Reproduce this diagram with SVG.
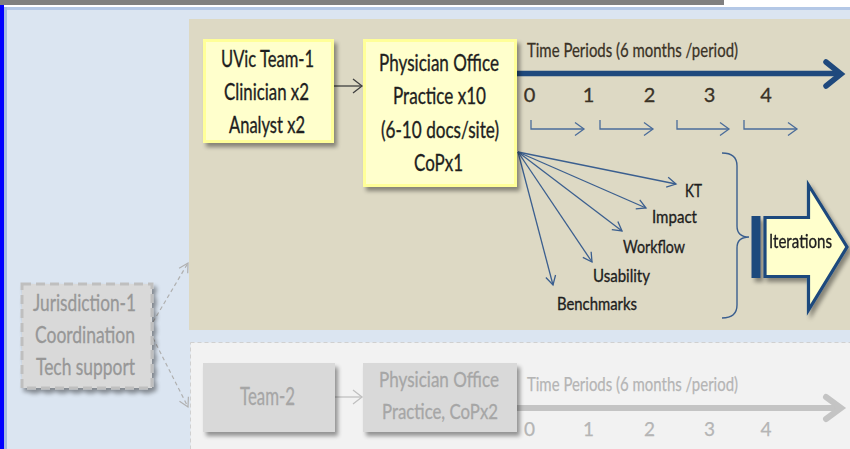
<svg xmlns="http://www.w3.org/2000/svg" width="850" height="449" viewBox="0 0 850 449">
<style>
.t{font-family:Lato,"Open Sans","Liberation Sans",sans-serif;}
.dk{fill:#1e1e1e;stroke:#1e1e1e;stroke-width:0.35;}
.tm{fill:#3a3226;stroke:#3a3226;stroke-width:0.3;}
.gr{fill:#a6a6a6;stroke:#a6a6a6;stroke-width:0.3;}
.lg{fill:#b5b5b5;stroke:#b5b5b5;stroke-width:0.25;}
.jg{fill:#979797;stroke:#979797;stroke-width:0.3;}
.ybox{fill:#ffffcc;stroke:#ffff99;stroke-width:3;}
.gbox{fill:#d9d9d9;}
.fan{stroke:#3b5f8f;stroke-width:1.3;fill:none;marker-end:url(#mb);}
.elb{stroke:#4a6c9a;stroke-width:1.3;fill:none;marker-end:url(#me);}
</style>
<defs>
<filter id="sh" x="-15%" y="-15%" width="140%" height="140%">
<feGaussianBlur in="SourceAlpha" stdDeviation="2"/>
<feOffset dx="3" dy="4" result="o"/>
<feComponentTransfer><feFuncA type="linear" slope="0.4"/></feComponentTransfer>
<feMerge><feMergeNode/><feMergeNode in="SourceGraphic"/></feMerge>
</filter>
<marker id="mb" markerUnits="userSpaceOnUse" markerWidth="12" markerHeight="14" refX="10" refY="7" orient="auto"><path d="M1,2 L10,7 L1,12" fill="none" stroke="#3b5f8f" stroke-width="1.3"/></marker>
<marker id="me" markerUnits="userSpaceOnUse" markerWidth="12" markerHeight="16" refX="10" refY="8" orient="auto"><path d="M1,1.5 L10,8 L1,14.5" fill="none" stroke="#4a6c9a" stroke-width="1.3"/></marker>
<marker id="md" markerUnits="userSpaceOnUse" markerWidth="12" markerHeight="16" refX="10" refY="8" orient="auto"><path d="M1,1 L10,8 L1,15" fill="none" stroke="#404040" stroke-width="1.3"/></marker>
<marker id="mg" markerUnits="userSpaceOnUse" markerWidth="12" markerHeight="14" refX="10" refY="7" orient="auto"><path d="M1,2 L10,7 L1,12" fill="none" stroke="#b0b0b0" stroke-width="1.2"/></marker>
<marker id="ml" markerUnits="userSpaceOnUse" markerWidth="12" markerHeight="16" refX="10" refY="8" orient="auto"><path d="M1,1 L10,8 L1,15" fill="none" stroke="#c0c0c0" stroke-width="1.3"/></marker>
</defs>

<g id="background">
<rect x="0" y="0" width="850" height="449" fill="#dbe5f1"/>
<rect x="0" y="0" width="724" height="5" fill="#808080"/>
<rect x="724" y="0" width="126" height="5" fill="#ffffff"/>
<rect x="0" y="5" width="850" height="2" fill="#ffffff"/>
<rect x="4" y="7" width="846" height="3" fill="#b4c8e6"/>
<rect x="4" y="7" width="3" height="442" fill="#a3bbe2"/>
<rect x="0" y="5" width="4" height="444" fill="#0000ff"/>
<rect id="panel1" x="189" y="19" width="661" height="311" fill="#ddd9c4"/>
<rect id="panel2" x="190.5" y="342.5" width="661" height="110" fill="#f2f2f2" stroke="#d0d0d0" stroke-width="1" stroke-dasharray="4 3"/>
</g>

<g id="connectors">
<path d="M334,86 H362" stroke="#404040" stroke-width="1.3" fill="none" marker-end="url(#md)"/>
<path d="M517,73.5 H840" stroke="#1f497d" stroke-width="5.5" fill="none"/>
<polyline points="826,62 841,74 826,86" stroke="#1f497d" stroke-width="5.5" fill="none" stroke-linecap="round" stroke-linejoin="miter"/>
<path class="elb" d="M531,120 V129 H584"/>
<path class="elb" d="M600,120 V129 H653"/>
<path class="elb" d="M677,120 V129 H729"/>
<path class="elb" d="M744,120 V129 H797"/>
<path class="fan" d="M518,152 L676,184"/>
<path class="fan" d="M518,152 L646,208"/>
<path class="fan" d="M518,152 L622,231"/>
<path class="fan" d="M518,152 L592,262"/>
<path class="fan" d="M518,152 L553,285"/>
<path d="M722,153 Q737,153 737,166 V226 Q737,237 749,237 Q737,237 737,248 V305 Q737,318 722,318" stroke="#3b5f8f" stroke-width="1.4" fill="none"/>
<path d="M153,322 L188,263" stroke="#b0b0b0" stroke-width="1.2" stroke-dasharray="4 3" fill="none" marker-end="url(#mg)"/>
<path d="M153,338 L188,407" stroke="#b0b0b0" stroke-width="1.2" stroke-dasharray="4 3" fill="none" marker-end="url(#mg)"/>
<path d="M335,397 H362" stroke="#c0c0c0" stroke-width="1.3" fill="none" marker-end="url(#ml)"/>
<path d="M517,408 H840" stroke="#c4c4c4" stroke-width="6" fill="none"/>
<polyline points="826,397 841,408 826,419" stroke="#c4c4c4" stroke-width="6" fill="none" stroke-linecap="round"/>
</g>

<g id="uvic-team-1">
<rect class="ybox" x="204.5" y="40.5" width="128" height="101" filter="url(#sh)"/>
<text class="t dk" font-size="22.5" x="221" y="67" textLength="93" lengthAdjust="spacingAndGlyphs">UVic Team-1</text>
<text class="t dk" font-size="22.5" x="224" y="100" textLength="85" lengthAdjust="spacingAndGlyphs">Clinician x2</text>
<text class="t dk" font-size="22.5" x="229" y="133" textLength="76" lengthAdjust="spacingAndGlyphs">Analyst x2</text>
</g>

<g id="physician-office-1">
<rect class="ybox" x="364.5" y="40.5" width="151" height="145" filter="url(#sh)"/>
<text class="t dk" font-size="22.5" x="379" y="71" textLength="120" lengthAdjust="spacingAndGlyphs">Physician Office</text>
<text class="t dk" font-size="22.5" x="393" y="104" textLength="93" lengthAdjust="spacingAndGlyphs">Practice x10</text>
<text class="t dk" font-size="22.5" x="381" y="138" textLength="118" lengthAdjust="spacingAndGlyphs">(6-10 docs/site)</text>
<text class="t dk" font-size="22.5" x="414" y="171" textLength="49" lengthAdjust="spacingAndGlyphs">CoPx1</text>
</g>

<g id="timeline-1">
<text class="t tm" font-size="20" x="527" y="57" textLength="211" lengthAdjust="spacingAndGlyphs">Time Periods (6 months /period)</text>
<g class="t tm" font-size="20" text-anchor="middle">
<text x="529.5" y="102">0</text>
<text x="588.5" y="102">1</text>
<text x="649.5" y="102">2</text>
<text x="709.5" y="102">3</text>
<text x="766" y="102">4</text>
</g>
</g>

<g id="outcomes">
<text class="t dk" font-size="17.5" x="685" y="197" textLength="17" lengthAdjust="spacingAndGlyphs">KT</text>
<text class="t dk" font-size="17.5" x="652" y="223" textLength="45" lengthAdjust="spacingAndGlyphs">Impact</text>
<text class="t dk" font-size="17.5" x="623" y="253" textLength="62" lengthAdjust="spacingAndGlyphs">Workflow</text>
<text class="t dk" font-size="17.5" x="593" y="282" textLength="57" lengthAdjust="spacingAndGlyphs">Usability</text>
<text class="t dk" font-size="17.5" x="557" y="310" textLength="80" lengthAdjust="spacingAndGlyphs">Benchmarks</text>
</g>

<g id="iterations" filter="url(#sh)">
<rect x="753" y="217.5" width="6" height="59" fill="#1f497d" stroke="#1f497d" stroke-width="3"/>
<path d="M765,217.5 H808.5 V185 L847,247 L808.5,310 V276.5 H765 Z" fill="#ffffcc" stroke="#1f497d" stroke-width="3.2" stroke-linejoin="miter"/>
<text class="t dk" font-size="18.5" x="769" y="248" textLength="63" lengthAdjust="spacingAndGlyphs">Iterations</text>
</g>

<g id="jurisdiction-1">
<rect x="22" y="284" width="130" height="104" fill="#d9d9d9" stroke="#bfbfbf" stroke-width="3" stroke-dasharray="9 5" filter="url(#sh)"/>
<text class="t jg" font-size="23" x="33" y="311" textLength="103" lengthAdjust="spacingAndGlyphs">Jurisdiction-1</text>
<text class="t jg" font-size="23" x="35" y="343" textLength="100" lengthAdjust="spacingAndGlyphs">Coordination</text>
<text class="t jg" font-size="23" x="36" y="375" textLength="99" lengthAdjust="spacingAndGlyphs">Tech support</text>
</g>

<g id="team-2">
<rect class="gbox" x="203" y="363" width="132" height="69" filter="url(#sh)"/>
<text class="t gr" font-size="25" x="240" y="405" textLength="55" lengthAdjust="spacingAndGlyphs">Team-2</text>
</g>

<g id="physician-office-2">
<rect class="gbox" x="363" y="363" width="154" height="69" filter="url(#sh)"/>
<text class="t gr" font-size="22" x="379" y="387" textLength="120" lengthAdjust="spacingAndGlyphs">Physician Office</text>
<text class="t gr" font-size="20.5" x="382" y="419" textLength="116" lengthAdjust="spacingAndGlyphs">Practice, CoPx2</text>
</g>

<g id="timeline-2">
<text class="t lg" font-size="20" x="527" y="391" textLength="211" lengthAdjust="spacingAndGlyphs">Time Periods (6 months /period)</text>
<g class="t lg" font-size="19" text-anchor="middle">
<text x="529.5" y="436">0</text>
<text x="588.5" y="436">1</text>
<text x="649.5" y="436">2</text>
<text x="709.5" y="436">3</text>
<text x="766" y="436">4</text>
</g>
</g>
</svg>
